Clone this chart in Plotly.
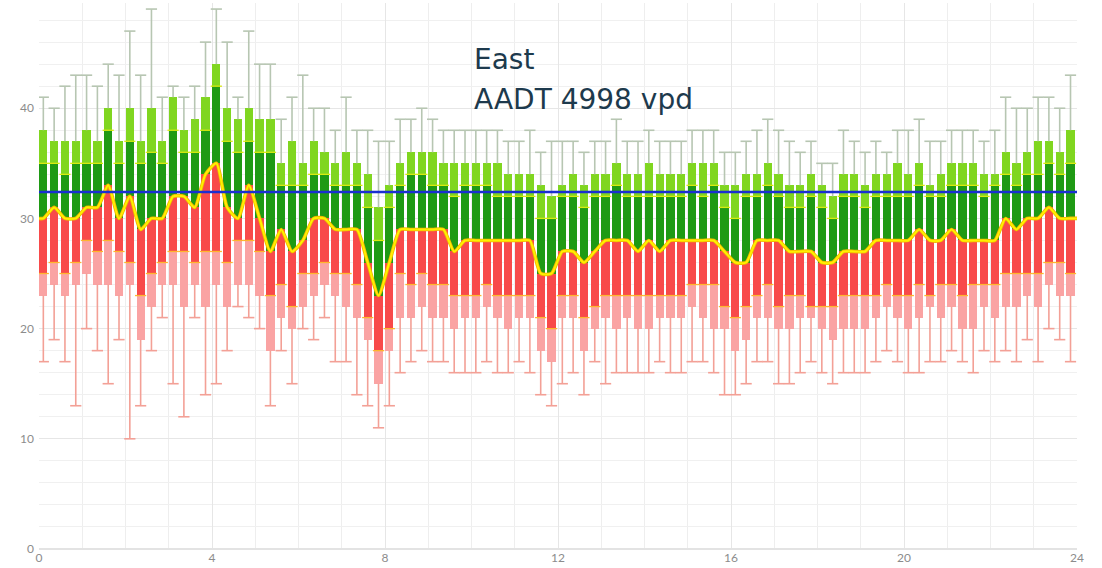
import plotly.graph_objects as go

# Speed distribution by 15-minute interval (mph), 96 intervals over the day
slot_start = [i * 0.25 for i in range(96)]

speed_min = [17, 19, 17, 13, 20, 18, 15, 19, 10, 13, 18, 21, 15, 12, 21, 14,
             15, 18, 22, 21, 20, 13, 18, 15, 20, 19, 21, 17, 17, 14, 13, 11,
             13, 16, 17, 18, 17, 17, 16, 16, 16, 17, 16, 16, 17, 16, 14, 13,
             15, 16, 14, 17, 15, 16, 16, 16, 16, 17, 16, 16, 17, 17, 16, 14,
             14, 15, 17, 17, 15, 15, 16, 17, 16, 15, 16, 16, 16, 17, 18, 17,
             16, 16, 17, 17, 18, 17, 16, 18, 17, 18, 17, 19, 17, 20, 19, 17]
speed_p15 = [23, 24, 23, 24, 25, 24, 24, 23, 24, 19, 22, 24, 24, 22, 24, 22,
             24, 22, 24, 24, 23, 18, 21, 20, 22, 23, 24, 23, 22, 21, 19, 15,
             18, 21, 21, 22, 21, 21, 20, 21, 21, 22, 21, 20, 21, 21, 18, 17,
             21, 21, 18, 20, 21, 20, 21, 20, 20, 21, 21, 21, 22, 21, 20, 20,
             18, 19, 21, 21, 20, 20, 21, 21, 20, 19, 20, 20, 20, 21, 22, 21,
             20, 21, 22, 21, 22, 20, 20, 22, 21, 22, 22, 23, 22, 24, 23, 23]
speed_p25 = [25, 26, 25, 26, 28, 27, 28, 27, 26, 23, 25, 26, 27, 27, 26, 27,
             27, 26, 28, 28, 27, 23, 24, 22, 25, 25, 26, 25, 25, 24, 21, 18,
             20, 25, 24, 25, 24, 24, 23, 23, 23, 24, 23, 23, 23, 23, 21, 20,
             23, 23, 21, 22, 23, 23, 23, 23, 23, 23, 23, 23, 24, 24, 24, 22,
             21, 22, 23, 24, 22, 23, 23, 22, 22, 22, 23, 23, 23, 23, 24, 23,
             23, 24, 23, 24, 24, 23, 24, 24, 24, 25, 25, 25, 25, 26, 26, 25]
speed_p50 = [30, 31, 30, 30, 31, 31, 33, 30, 32, 29, 30, 30, 32, 32, 31, 34,
             35, 31, 30, 33, 30, 27, 29, 27, 28, 30, 30, 29, 29, 29, 26, 23,
             26, 29, 29, 29, 29, 29, 27, 28, 28, 28, 28, 28, 28, 28, 25, 25,
             27, 27, 26, 27, 28, 28, 28, 27, 28, 27, 28, 28, 28, 28, 28, 27,
             26, 26, 28, 28, 28, 27, 27, 27, 26, 26, 27, 27, 27, 28, 28, 28,
             28, 29, 28, 28, 29, 28, 28, 28, 28, 30, 29, 30, 30, 31, 30, 30]
speed_p75 = [35, 35, 34, 35, 35, 35, 38, 35, 37, 35, 36, 35, 38, 36, 36, 38,
             42, 37, 36, 37, 36, 36, 33, 33, 33, 34, 34, 33, 33, 33, 31, 28,
             31, 33, 34, 34, 33, 33, 32, 33, 33, 33, 32, 32, 32, 32, 30, 30,
             32, 32, 31, 32, 32, 33, 32, 32, 32, 32, 32, 32, 33, 32, 33, 31,
             30, 32, 32, 33, 32, 31, 31, 32, 31, 30, 32, 32, 31, 32, 32, 32,
             32, 33, 32, 32, 33, 33, 33, 32, 33, 34, 33, 34, 34, 35, 34, 35]
speed_p85 = [38, 37, 37, 37, 38, 37, 40, 37, 40, 37, 40, 37, 41, 38, 39, 41,
             44, 40, 39, 40, 39, 39, 35, 37, 35, 37, 36, 35, 36, 35, 34, 31,
             33, 35, 36, 36, 36, 35, 35, 35, 35, 35, 35, 34, 34, 34, 33, 32,
             33, 34, 33, 34, 34, 35, 34, 34, 35, 34, 34, 34, 35, 35, 35, 33,
             33, 34, 34, 35, 34, 33, 33, 34, 33, 32, 34, 34, 33, 34, 34, 35,
             34, 35, 33, 34, 35, 35, 35, 34, 34, 36, 35, 36, 37, 37, 36, 38]
speed_max = [41, 40, 42, 43, 43, 42, 44, 43, 47, 43, 49, 41, 42, 41, 42, 46,
             49, 46, 41, 47, 44, 44, 39, 41, 43, 40, 40, 38, 41, 38, 38, 37,
             37, 39, 39, 40, 39, 38, 38, 38, 38, 38, 38, 37, 37, 38, 36, 37,
             37, 37, 36, 37, 37, 39, 37, 37, 38, 37, 37, 37, 38, 38, 38, 36,
             36, 37, 38, 39, 38, 37, 36, 37, 35, 35, 38, 37, 36, 37, 36, 38,
             38, 39, 37, 37, 38, 38, 38, 37, 38, 41, 40, 40, 41, 41, 40, 43]

reference_speed = 32.4
title_lines = ["East", "AADT 4998 vpd"]

BAR_W = 0.19
DAY_END = 24
centers = [s + 0.1 for s in slot_start]

C_PINK = "#faa3a3"
C_RED = "#f84a4a"
C_DKGREEN = "#1f9a14"
C_LTGREEN = "#80d620"
C_WHISK_HI = "#b7c6b2"
C_WHISK_LO = "#f3a096"

fig = go.Figure()


def seg(lo_vals, hi_vals, color):
    fig.add_trace(go.Bar(
        x=centers,
        y=[h - l for l, h in zip(lo_vals, hi_vals)],
        base=lo_vals,
        width=BAR_W,
        marker=dict(color=color, line=dict(width=0)),
        hoverinfo="skip",
        showlegend=False,
    ))


seg(speed_p15, speed_p25, C_PINK)
seg(speed_p25, speed_p50, C_RED)
seg(speed_p50, speed_p75, C_DKGREEN)
seg(speed_p75, speed_p85, C_LTGREEN)


def whisker(start, end, color):
    xs, ys = [], []
    for c, a, b in zip(centers, start, end):
        xs += [c, c, None]
        ys += [a, b, None]
    fig.add_trace(go.Scatter(x=xs, y=ys, mode="lines",
                             line=dict(color=color, width=1.6),
                             hoverinfo="skip", showlegend=False))
    fig.add_trace(go.Scatter(x=centers, y=end, mode="markers",
                             marker=dict(symbol="line-ew", size=8,
                                         line=dict(color=color, width=1.6)),
                             hoverinfo="skip", showlegend=False))


whisker(speed_p85, speed_max, C_WHISK_HI)
whisker(speed_p15, speed_min, C_WHISK_LO)

# thin separators between segments
fig.add_trace(go.Scatter(x=centers, y=speed_p25, mode="markers",
                         marker=dict(symbol="line-ew", size=8,
                                     line=dict(color="#ffb52e", width=1.3)),
                         hoverinfo="skip", showlegend=False))
fig.add_trace(go.Scatter(x=centers, y=speed_p75, mode="markers",
                         marker=dict(symbol="line-ew", size=8,
                                     line=dict(color="#d9ea10", width=1.3)),
                         hoverinfo="skip", showlegend=False))

# smoothed median, carried to both ends of the day
med_x = [0] + centers + [DAY_END]
med_y = [speed_p50[0]] + speed_p50 + [speed_p50[-1]]
fig.add_trace(go.Scatter(x=med_x, y=med_y, mode="lines",
                         line=dict(color="#f2b400", width=3.6, shape="spline", smoothing=0.6),
                         hoverinfo="skip", showlegend=False))
fig.add_trace(go.Scatter(x=med_x, y=med_y, mode="lines",
                         line=dict(color="#fff000", width=2.0, shape="spline", smoothing=0.6),
                         hoverinfo="skip", showlegend=False))

# reference speed line
fig.add_trace(go.Scatter(x=[0, DAY_END], y=[reference_speed, reference_speed], mode="lines",
                         line=dict(color="#1a2fd0", width=2.4),
                         hoverinfo="skip", showlegend=False))

fig.add_annotation(x=10, y=44.4, xref="x", yref="y", text=title_lines[0],
                   showarrow=False, xanchor="left", yanchor="middle",
                   font=dict(family="DejaVu Sans", size=28, color="#1d3a4d"))
fig.add_annotation(x=10, y=40.8, xref="x", yref="y", text=title_lines[1],
                   showarrow=False, xanchor="left", yanchor="middle",
                   font=dict(family="DejaVu Sans", size=28, color="#1d3a4d"))

fig.update_layout(
    width=1102, height=568,
    margin=dict(l=39, r=25, t=3, b=19),
    paper_bgcolor="white", plot_bgcolor="white",
    barmode="overlay", bargap=0,
    font=dict(family="Lato", size=12, color="#8c8c8c"),
    showlegend=False,
)
fig.update_xaxes(range=[0, DAY_END], dtick=4, tick0=0, showgrid=True,
                 gridcolor="#e6e6e6", gridwidth=1, zeroline=False, showline=False,
                 ticks="", minor=dict(dtick=1, showgrid=True, gridcolor="#eeeeee"),
                 tickfont=dict(size=12, color="#8c8c8c"))
fig.update_yaxes(range=[0, 49.55], dtick=10, tick0=0, showgrid=True,
                 gridcolor="#e6e6e6", gridwidth=1, zeroline=True, zerolinecolor="#e3e3e3",
                 showline=False, ticks="", ticklabelstandoff=4,
                 minor=dict(dtick=2, showgrid=True, gridcolor="#f0f0f0"),
                 tickfont=dict(size=12, color="#8c8c8c"))

fig.write_html("out.html")
